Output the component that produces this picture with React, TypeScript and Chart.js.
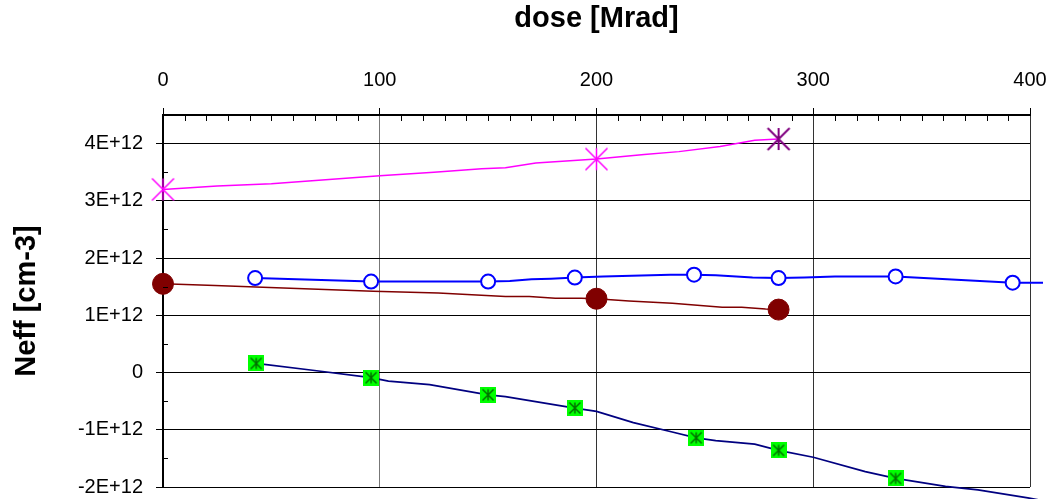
import React, { useEffect, useRef } from 'react';
import { Chart, registerables } from 'chart.js';

Chart.register(...registerables);

const FONT = "'Liberation Sans', Arial, Helvetica, sans-serif";

// x axis (dose, Mrad)
const xTickLabels = ['0', '100', '200', '300', '400'];
const X_MIN = 0;
const X_MAX = 400;
// y axis (Neff in units of 1E+12 cm-3)
const yTickValues = [-2, -1, 0, 1, 2, 3, 4];
const Y_MIN = -2;
const Y_MAX = 4.5;

// magenta series (line + asterisk markers)
const magentaLineX = [0, 25, 50, 75, 100, 125, 147, 158, 172, 200, 222, 238, 257, 273, 284];
const magentaLineY = [3.2, 3.26, 3.3, 3.37, 3.44, 3.5, 3.56, 3.58, 3.66, 3.73, 3.81, 3.86, 3.95, 4.06, 4.08];
const magentaMarkX = [0, 200];
const magentaMarkY = [3.2, 3.73];
const purpleMarkX = [284];
const purpleMarkY = [4.08];

// blue series (open circles)
const blueLineX = [42.5, 96, 150, 160, 170, 179, 190, 203, 234, 245, 255, 272, 284, 296, 310, 338, 392, 406];
const blueLineY = [1.65, 1.59, 1.59, 1.6, 1.63, 1.64, 1.66, 1.68, 1.71, 1.71, 1.7, 1.66, 1.65, 1.66, 1.68, 1.68, 1.57, 1.57];
const blueMarkX = [42.5, 96, 150, 190, 245, 284, 338, 392];
const blueMarkY = [1.65, 1.59, 1.59, 1.66, 1.71, 1.65, 1.68, 1.57];

// dark red series (filled circles)
const redLineX = [0, 24, 46, 97, 127, 158, 169, 181, 193, 200, 215, 235, 258, 267, 278, 284];
const redLineY = [1.55, 1.52, 1.49, 1.42, 1.39, 1.33, 1.33, 1.3, 1.3, 1.29, 1.25, 1.21, 1.14, 1.14, 1.11, 1.1];
const redMarkX = [0, 200, 284];
const redMarkY = [1.55, 1.29, 1.1];

// navy series (green square markers)
const navyLineX = [43, 69, 96, 104, 123, 150, 158, 190, 200, 217, 234, 246, 255, 273, 284, 300, 324, 338, 361, 376, 399, 410];
const navyLineY = [0.16, 0.04, -0.09, -0.15, -0.21, -0.39, -0.42, -0.62, -0.68, -0.875, -1.03, -1.14, -1.19, -1.25, -1.36, -1.48, -1.73, -1.85, -1.99, -2.05, -2.19, -2.27];
const navyMarkX = [43, 96, 150, 190, 246, 284, 338];
const navyMarkY = [0.16, -0.09, -0.39, -0.62, -1.14, -1.36, -1.85];

const pts = (xs: number[], ys: number[]) => xs.map((x, i) => ({ x, y: ys[i] }));

function makeAsterisk(color: string, r: number, lw: number, bg?: string, bgSize?: number) {
  const size = Math.max(Math.ceil(r * 2 + lw * 2), bgSize || 0);
  const c = document.createElement('canvas');
  c.width = size;
  c.height = size;
  const g = c.getContext('2d')!;
  const m = size / 2;
  if (bg && bgSize) {
    g.fillStyle = bg;
    g.fillRect(m - bgSize / 2, m - bgSize / 2, bgSize, bgSize);
  }
  g.strokeStyle = color;
  g.lineWidth = lw;
  g.lineCap = 'butt';
  g.beginPath();
  g.moveTo(m, m - r);
  g.lineTo(m, m + r);
  g.moveTo(m - r, m - r);
  g.lineTo(m + r, m + r);
  g.moveTo(m + r, m - r);
  g.lineTo(m - r, m + r);
  g.stroke();
  return c;
}

const minorTicks = {
  id: 'minorTicks',
  afterDatasetsDraw(chart: any) {
    const { ctx, chartArea, scales } = chart;
    const xs = scales.x;
    const ys = scales.y;
    ctx.save();
    ctx.strokeStyle = '#000';
    ctx.lineWidth = 1;
    ctx.beginPath();
    for (let v = X_MIN + 10; v < X_MAX; v += 10) {
      if (v % 100 === 0) continue;
      const px = Math.round(xs.getPixelForValue(v)) + 0.5;
      ctx.moveTo(px, chartArea.top);
      ctx.lineTo(px, chartArea.top + 6);
    }
    for (let v = Y_MIN + 0.5; v < Y_MAX; v += 1) {
      const py = Math.round(ys.getPixelForValue(v)) + 0.5;
      ctx.moveTo(chartArea.left, py);
      ctx.lineTo(chartArea.left + 5, py);
    }
    ctx.stroke();
    ctx.restore();
  },
};

export default function App() {
  const ref = useRef<HTMLCanvasElement | null>(null);

  useEffect(() => {
    if (!ref.current) return;
    const magentaStar = makeAsterisk('#FF00FF', 11, 1.5);
    const purpleStar = makeAsterisk('#800080', 11, 2);
    const greenSq = makeAsterisk('#007000', 5.5, 1.5, '#00FF00', 16);

    const lineDs = (xs: number[], ys: number[], color: string, width: number) => ({
      data: pts(xs, ys),
      showLine: true,
      borderColor: color,
      borderWidth: width,
      pointRadius: 0,
      tension: 0,
      clip: false as any,
      order: 2,
    });
    const markDs = (xs: number[], ys: number[], extra: any) => ({
      data: pts(xs, ys),
      showLine: false,
      clip: false as any,
      order: 1,
      ...extra,
    });

    const chart = new Chart(ref.current, {
      type: 'scatter',
      data: {
        datasets: [
          lineDs(magentaLineX, magentaLineY, '#FF00FF', 1.5),
          lineDs(blueLineX, blueLineY, '#0000FF', 2),
          lineDs(redLineX, redLineY, '#800000', 1.5),
          lineDs(navyLineX, navyLineY, '#000080', 1.75),
          markDs(magentaMarkX, magentaMarkY, { pointStyle: magentaStar, pointRadius: 11 }),
          markDs(purpleMarkX, purpleMarkY, { pointStyle: purpleStar, pointRadius: 11 }),
          markDs(blueMarkX, blueMarkY, {
            pointStyle: 'circle',
            pointRadius: 7,
            pointBackgroundColor: '#FFFFFF',
            pointBorderColor: '#0000FF',
            pointBorderWidth: 2,
          }),
          markDs(redMarkX, redMarkY, {
            pointStyle: 'circle',
            pointRadius: 10.5,
            pointBackgroundColor: '#800000',
            pointBorderColor: '#800000',
            pointBorderWidth: 1,
          }),
          markDs(navyMarkX, navyMarkY, { pointStyle: greenSq, pointRadius: 8 }),
        ] as any,
      },
      options: {
        animation: false,
        responsive: false,
        devicePixelRatio: 1,
        events: [],
        layout: { padding: { left: 0, top: 0, right: 50, bottom: 33 } },
        plugins: {
          legend: { display: false },
          tooltip: { enabled: false },
        },
        scales: {
          x: {
            type: 'linear',
            position: 'top',
            min: X_MIN,
            max: X_MAX,
            afterFit: (s: any) => {
              s.height = 115;
            },
            afterBuildTicks: (s: any) => {
              s.ticks = xTickLabels.map((t) => ({ value: Number(t) }));
            },
            ticks: {
              callback: (v: any) => String(v),
              font: { family: FONT, size: 20 },
              color: '#000',
              padding: 16,
              maxRotation: 0,
            },
            grid: {
              color: (c: any) => (c.tick && c.tick.value === 100 ? '#777' : '#333'),
              lineWidth: 1,
              tickLength: 7,
              tickColor: '#000',
            },
            border: { display: true, color: '#000', width: 2 },
            title: {
              display: true,
              text: 'dose [Mrad]',
              color: '#000',
              font: { family: FONT, size: 29, weight: 'bold' },
              padding: { top: 2, bottom: 0 },
            },
          },
          y: {
            type: 'linear',
            min: Y_MIN,
            max: Y_MAX,
            afterFit: (s: any) => {
              s.width = 163;
            },
            afterBuildTicks: (s: any) => {
              s.ticks = yTickValues.map((v) => ({ value: v }));
            },
            ticks: {
              callback: (v: any) => (v === 0 ? '0' : `${v}E+12`),
              font: { family: FONT, size: 20 },
              color: '#000',
              padding: 13,
            },
            grid: {
              color: '#000',
              lineWidth: 1,
              tickLength: 7,
              tickColor: '#000',
            },
            border: { display: true, color: '#000', width: 2 },
            title: {
              display: true,
              text: 'Neff [cm-3]',
              color: '#000',
              font: { family: FONT, size: 29, weight: 'bold' },
              padding: { top: 10, bottom: 0 },
            },
          },
        },
      } as any,
      plugins: [minorTicks],
    });
    return () => chart.destroy();
  }, []);

  return (
    <div
      style={{
        position: 'fixed',
        left: 0,
        top: 0,
        width: 1050,
        height: 499,
        overflow: 'hidden',
        background: '#fff',
      }}
    >
      <canvas ref={ref} width={1080} height={520} style={{ display: 'block', width: 1080, height: 520 }} />
    </div>
  );
}
